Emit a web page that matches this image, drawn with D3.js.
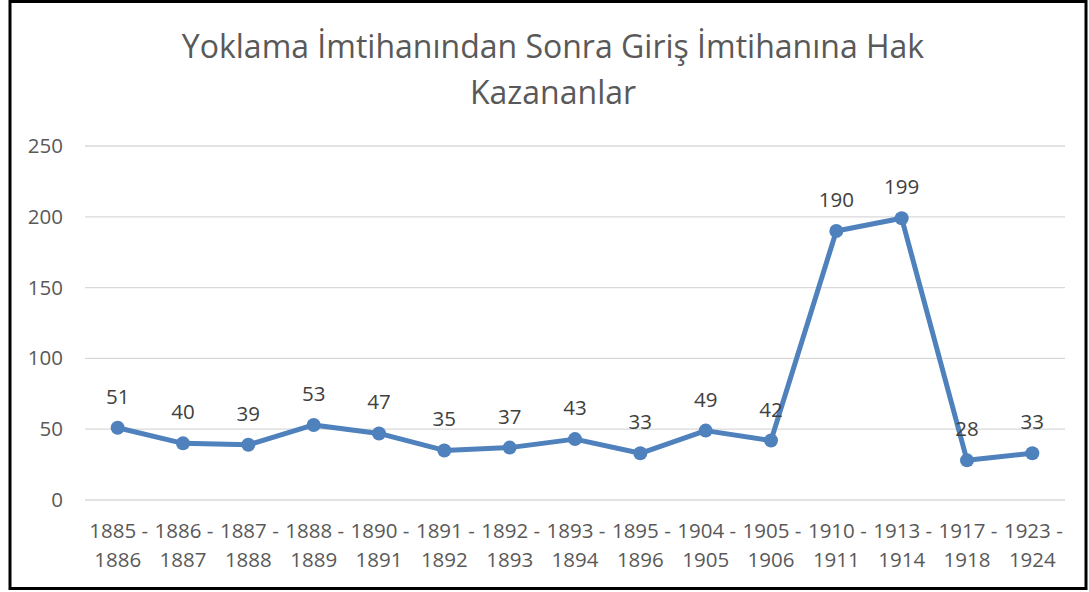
<!DOCTYPE html>
<html><head><meta charset="utf-8">
<script src="https://cdn.jsdelivr.net/npm/d3@7"></script>
<style>body{margin:0;background:#fff}svg{display:block}text{font-family:"Open Sans",sans-serif}</style>
</head><body><svg id="c" width="1089" height="592"></svg>
<script>
const titleLines = ["Yoklama İmtihanından Sonra Giriş İmtihanına Hak", "Kazananlar"];
const categories = [["1885 -","1886"],["1886 -","1887"],["1887 -","1888"],["1888 -","1889"],["1890 -","1891"],["1891 -","1892"],["1892 -","1893"],["1893 -","1894"],["1895 -","1896"],["1904 -","1905"],["1905 -","1906"],["1910 -","1911"],["1913 -","1914"],["1917 -","1918"],["1923 -","1924"]];
const values = [51,40,39,53,47,35,37,43,33,49,42,190,199,28,33];
const yTicks = [0,50,100,150,200,250];

const svg = d3.select("#c");
svg.append("rect").attr("x",10).attr("y",1.5).attr("width",1076).attr("height",587).attr("fill","#fff").attr("stroke","#000").attr("stroke-width",3);

const keys = categories.map(c=>c.join(" "));
const x = d3.scaleBand().domain(keys).range([85,1065]);
const y = d3.scaleLinear().domain([0,250]).range([500,146]);

svg.append("g").selectAll("text").data(titleLines).join("text")
  .attr("x",553).attr("y",(d,i)=>58+i*46).attr("text-anchor","middle")
  .attr("font-size",32).attr("fill","#595959").text(d=>d);

svg.append("g").selectAll("line").data(yTicks).join("line")
  .attr("x1",85).attr("x2",1065).attr("y1",d=>y(d)).attr("y2",d=>y(d))
  .attr("stroke","#d9d9d9").attr("stroke-width",1.3);

const yAxis = d3.axisLeft(y).tickValues(yTicks).tickSize(0).tickPadding(0);
const ga = svg.append("g").attr("transform","translate(63,0)").call(yAxis);
ga.select(".domain").remove();
ga.selectAll("text").attr("font-size",20.5).attr("fill","#595959").attr("font-family","Open Sans");

const xAxis = d3.axisBottom(x).tickSize(0).tickFormat(()=>"");
const gx = svg.append("g").attr("transform","translate(0,500)").call(xAxis);
gx.select(".domain").remove();
gx.selectAll(".tick").each(function(d,i){
  const t = d3.select(this).append("text").attr("text-anchor","middle").attr("font-size",20.5).attr("fill","#595959").attr("font-family","Open Sans");
  categories[i].forEach((s,j)=>t.append("tspan").attr("x",j===0?1:0).attr("y",38+j*29).text(s));
});

const cx = d=>x(d)+x.bandwidth()/2;
const line = d3.line().x((d,i)=>cx(keys[i])).y(d=>y(d));
svg.append("path").datum(values).attr("d",line).attr("fill","none").attr("stroke","#4f81bd").attr("stroke-width",5).attr("stroke-linejoin","round");
svg.append("g").selectAll("circle").data(values).join("circle")
  .attr("cx",(d,i)=>cx(keys[i])).attr("cy",d=>y(d)).attr("r",7).attr("fill","#4f81bd");
svg.append("g").selectAll("text").data(values).join("text")
  .attr("x",(d,i)=>cx(keys[i])).attr("y",d=>y(d)-24).attr("text-anchor","middle")
  .attr("font-size",20.5).attr("fill","#404040").text(d=>d);
</script></body></html>
